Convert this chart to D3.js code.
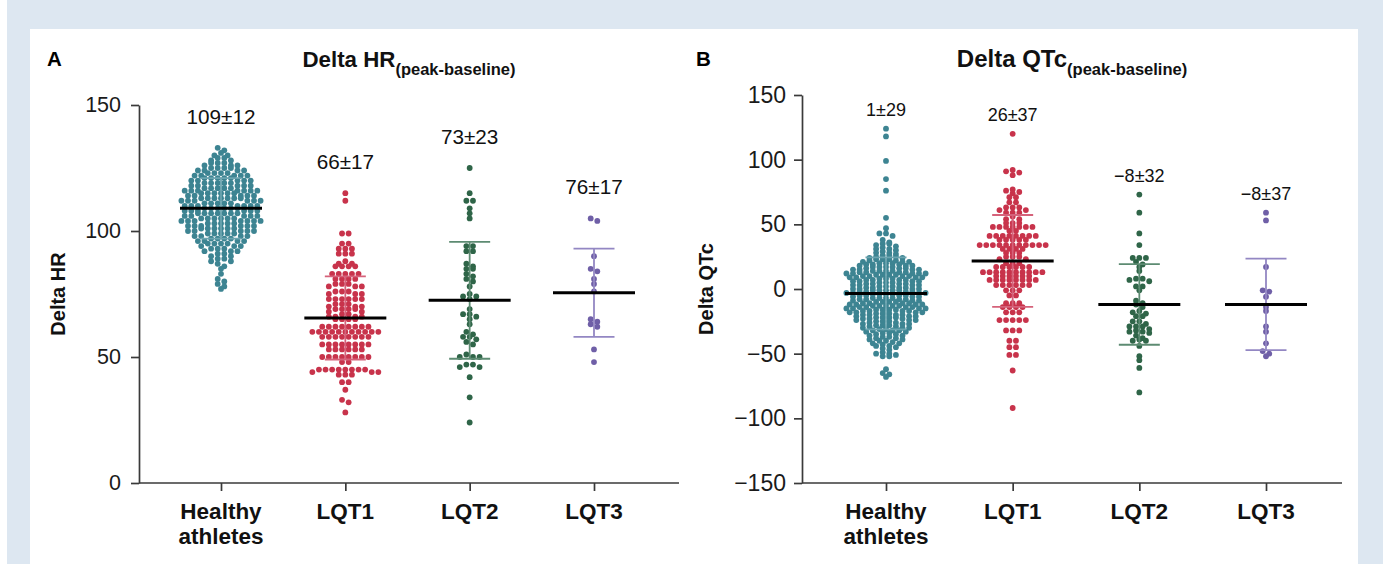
<!DOCTYPE html>
<html>
<head>
<meta charset="utf-8">
<script src="https://cdn.jsdelivr.net/npm/d3@7.9.0/dist/d3.min.js"></script>
<style>
  html, body { margin: 0; padding: 0; background: #fff; }
  svg { display: block; font-family: "Liberation Sans", Arial, sans-serif; }
</style>
</head>
<body>
<svg id="chart" width="1383" height="564"></svg>
<script>
const groups = ["Healthy athletes", "LQT1", "LQT2", "LQT3"];
const groupLines = [["Healthy", "athletes"], ["LQT1"], ["LQT2"], ["LQT3"]];

// panel A: delta heart rate (peak - baseline)
const hrHealthy = [133, 132, 131, 130, 130, 129, 129, 128, 128, 127, 127, 127, 126, 126, 126, 125, 125, 125, 125, 124, 124, 124, 124, 123, 123, 123, 123,
  122, 122, 122, 122, 122, 121, 121, 121, 121, 121, 120, 120, 120, 120, 120, 119, 119, 119, 119, 119, 118, 118, 118, 118, 118,
  117, 117, 117, 117, 117, 116, 116, 116, 116, 116, 116, 116, 115, 115, 115, 115, 115, 115, 114, 114, 114, 114, 114,
  113, 113, 113, 113, 113, 113, 113, 112, 112, 112, 112, 112, 112, 111, 111, 111, 111, 111, 110, 110, 110, 110, 110, 110, 110,
  109, 109, 109, 109, 109, 109, 108, 108, 108, 108, 108, 108, 107, 107, 107, 107, 107, 107, 107, 106, 106, 106, 106, 106,
  105, 105, 105, 105, 105, 105, 104, 104, 104, 104, 104, 104, 104, 103, 103, 103, 103, 103, 102, 102, 102, 102, 102, 102,
  101, 101, 101, 101, 101, 101, 100, 100, 100, 100, 100, 99, 99, 99, 99, 99, 98, 98, 98, 98, 97, 97, 97, 97, 96, 96, 96, 96,
  95, 95, 95, 95, 94, 94, 94, 93, 93, 93, 92, 92, 92, 91, 91, 90, 90, 89, 89, 88, 88, 87, 86, 85, 83, 81, 80, 79, 78, 77];
const hrLqt1 = [115, 112, 99, 99, 95, 95, 93, 93, 93, 91, 91, 91, 88, 87, 87, 86, 86, 86, 86,
  83, 83, 83, 83, 83, 81, 81, 81, 81, 79, 79, 79, 78, 78, 78, 76, 76, 76, 75, 75, 75,
  73, 73, 73, 73, 73, 73, 71, 71, 71, 70, 70, 70, 69, 69, 69, 69, 68, 68, 67, 67,
  66, 66, 66, 66, 65, 65, 65, 65, 62, 62, 62, 62, 62, 62, 62, 62,
  60, 60, 60, 60, 60, 60, 60, 60, 60, 60, 60, 58, 58, 58, 58, 58, 58, 58, 58,
  55, 55, 55, 55, 55, 55, 55, 55, 53, 53, 53, 53, 53, 53,
  50, 50, 50, 50, 50, 50, 50, 50, 48, 48,
  45, 45, 45, 45, 45, 45, 45, 45, 44, 44, 44, 43, 43, 43, 40, 40, 37, 33, 32, 28];
const hrLqt2 = [125, 115, 112, 112, 109, 107, 105, 94, 94, 92, 92, 87, 86, 85, 85, 83, 82, 81, 80, 78, 75, 74, 74, 73,
  69, 67, 67, 66, 65, 63, 60, 59, 58, 58, 57, 56, 55, 51, 50, 50, 50, 47, 47, 46, 46, 42, 34, 24];
const hrLqt3 = [105, 104, 90, 85, 84, 81, 79, 76, 65, 64, 63, 62, 53, 48];
const hrMean = [109, 65.5, 72.5, 75.5];
const hrSd = [12, 16.5, 23.2, 17.5];
const hrText = ["109±12", "66±17", "73±23", "76±17"];
const hrTicks = [0, 50, 100, 150];

// panel B: delta QTc (peak - baseline)
const qtcHealthy = [124, 118, 99, 85, 76, 55, 47, 43, 43, 41, 38, 36, 35, 35,
  34, 33, 32, 31, 31, 30, 29, 28, 28, 27, 26, 26, 25, 25, 24, 24, 23, 23, 23, 22, 22, 21, 21, 21,
  20, 20, 20, 19, 19, 19, 18, 18, 18, 17, 17, 17, 17, 16, 16, 16, 15, 15, 15, 15,
  14, 14, 14, 14, 13, 13, 13, 13, 12, 12, 12, 12, 12, 11, 11, 11, 11, 10, 10, 10, 10,
  9, 9, 9, 9, 8, 8, 8, 7, 7, 7, 7, 6, 6, 6, 6, 5, 5, 5, 4, 4, 4, 4, 3, 3, 3, 3, 2, 2, 2, 1, 1, 1, 1, 0, 0, 0, 0,
  -1, -1, -1, -1, -1, -2, -2, -2, -2, -3, -3, -3, -3, -4, -4, -4, -4, -5, -5, -5, -5,
  -6, -6, -6, -7, -7, -7, -7, -8, -8, -8, -8, -9, -9, -9, -10, -10, -10, -10,
  -11, -11, -11, -11, -12, -12, -12, -12, -13, -13, -13, -13, -13, -14, -14, -14, -14, -15, -15, -15, -15,
  -16, -16, -16, -16, -17, -17, -17, -17, -18, -18, -18, -18, -19, -19, -19, -20, -20, -20, -20,
  -21, -21, -21, -22, -22, -22, -22, -23, -23, -23, -24, -24, -24, -25, -25, -25,
  -26, -26, -27, -27, -27, -28, -28, -28, -29, -29, -30, -30, -30, -31, -31, -32, -32, -32, -33, -33,
  -34, -34, -35, -35, -36, -36, -37, -37, -38, -38, -39, -39, -40, -40, -41, -42, -42, -43, -44, -44, -45,
  -46, -47, -49, -50, -50, -51, -52, -52, -62, -65, -66, -68];
const qtcLqt1 = [120, 92, 91, 90, 88, 77, 76, 75, 74, 71, 71, 67, 67, 63, 63, 63, 61, 61, 59, 59, 59, 56, 54, 54, 51, 51, 51,
  48, 48, 48, 48, 48, 48, 48, 45, 45, 41, 41, 41, 41, 41, 41, 41, 41, 38, 38, 38, 38, 38,
  34, 34, 34, 34, 34, 34, 34, 34, 34, 34, 34, 31, 31, 31, 31, 28, 28, 28, 25, 25, 25, 23, 23,
  20, 20, 20, 17, 17, 17, 17, 17, 17, 13, 13, 13, 13, 13, 13, 13, 13, 13, 13, 10, 10, 10, 10, 10, 10,
  7, 7, 7, 7, 7, 7, 7, 7, 3, 3, 3, 3, 3, 3, -1, -1, -1, -5, -5,
  -11, -11, -11, -14, -14, -14, -14, -18, -18, -18, -24, -24, -24, -24, -24,
  -32, -32, -32, -40, -40, -45, -45, -51, -51, -63, -92];
const qtcLqt2 = [73, 59, 43, 34, 24, 24, 24, 21, 19, 17, 14, 8, 8, 7, 6, 2, 2, -1, -9, -11, -12, -14, -17, -18,
  -19, -21, -21, -25, -25, -27, -29, -29, -29, -31, -32, -33, -33, -34, -36, -38, -39, -40, -40, -44, -52, -55, -61, -80];
const qtcLqt3 = [59, 53, 17, -2, -1, -6, -14, -17, -29, -33, -42, -48, -50, -52];
const qtcMean = [-3.4, 21.7, -11.9, -11.9];
const qtcSd = [27.8, 35.5, 31.2, 35.4];
const qtcText = ["1±29", "26±37", "−8±32", "−8±37"];
const qtcTicks = [-150, -100, -50, 0, 50, 100, 150];

const dotColors = ["#3d8492", "#c8334b", "#2f6548", "#6f5fa7"];
const barColors = ["#6ba4af", "#d5627a", "#5d8b72", "#9387c3"];

const svg = d3.select("#chart");
svg.append("rect").attr("x", 7).attr("y", 0).attr("width", 1376).attr("height", 564).attr("fill", "#dde7f1");
svg.append("rect").attr("x", 30).attr("y", 29).attr("width", 1328).attr("height", 535).attr("fill", "#fff");

// Prism-like scatter: points close in y share a row, spread sideways from the centre
function rows(values, y, rowH, step) {
  const out = [];
  let row = [];
  const flush = () => {
    const n = row.length;
    const slots = d3.range(n).map(k => (k - (n - 1) / 2) * step)
      .sort((a, b) => Math.abs(a) - Math.abs(b) || a - b);
    row.forEach((p, k) => { p.dx = slots[k]; out.push(p); });
    row = [];
  };
  values.slice().sort((a, b) => b - a).forEach(v => {
    const py = y(v);
    if (row.length && py - row[0].y >= rowH) flush();
    row.push({ v, y: py });
  });
  flush();
  return out;
}

function drawPanel(o) {
  const g = svg.append("g");
  const y = d3.scaleLinear().domain(o.yDomain).range([o.bottom, o.top]);
  const x = d3.scalePoint().domain(groups).range(o.xRange);

  const gy = g.append("g")
    .attr("transform", `translate(${o.left},0)`)
    .call(d3.axisLeft(y).tickValues(o.ticks).tickSize(8).tickSizeOuter(0).tickPadding(o.tickPad));
  gy.selectAll("text").attr("font-size", o.tickSize).attr("fill", "#1a1a1a").attr("font-family", null);

  const gx = g.append("g")
    .attr("transform", `translate(0,${o.bottom})`)
    .call(d3.axisBottom(x).tickSize(8).tickFormat(""));
  gx.select(".domain").remove();
  g.append("line")
    .attr("x1", o.left).attr("x2", o.right)
    .attr("y1", o.bottom).attr("y2", o.bottom);
  g.selectAll(".domain, .tick line, line").attr("stroke", "#3a3a3a").attr("stroke-width", 1.7);

  // category labels
  groups.forEach((c, i) => {
    const t = g.append("text")
      .attr("text-anchor", "middle")
      .attr("font-size", 22.5).attr("font-weight", "bold").attr("fill", "#111");
    groupLines[i].forEach((line, j) => {
      t.append("tspan").attr("x", x(c)).attr("y", 518.5 + j * 25).text(line);
    });
  });

  // dots, error bars, means
  o.series.forEach((vals, i) => {
    const cx = x(groups[i]);
    const pts = rows(vals, y, 3, 6.6);
    g.append("g").selectAll("circle").data(pts).join("circle")
      .attr("cx", d => cx + d.dx).attr("cy", d => d.y).attr("r", 2.9)
      .attr("fill", dotColors[i]);

    const lo = y(o.mean[i] - o.sd[i]), hi = y(o.mean[i] + o.sd[i]);
    const eb = g.append("g").attr("stroke", barColors[i]).attr("stroke-width", 1.8);
    eb.append("line").attr("x1", cx).attr("x2", cx).attr("y1", lo).attr("y2", hi);
    [lo, hi].forEach(yy => eb.append("line")
      .attr("x1", cx - 20.5).attr("x2", cx + 20.5).attr("y1", yy).attr("y2", yy));

    g.append("line")
      .attr("x1", cx - 41).attr("x2", cx + 41)
      .attr("y1", y(o.mean[i])).attr("y2", y(o.mean[i]))
      .attr("stroke", "#000").attr("stroke-width", 3);

    g.append("text")
      .attr("x", cx).attr("y", y(d3.max(vals)) - o.labelGap)
      .attr("text-anchor", "middle")
      .attr("font-size", o.labelSize).attr("fill", "#111")
      .text(o.text[i]);
  });

  // panel letter, title, y title
  g.append("text").attr("x", o.letterX).attr("y", 66)
    .attr("font-size", 20.5).attr("font-weight", "bold").text(o.letter);
  const tt = g.append("text").attr("x", (o.left + o.right) / 2).attr("y", 66.5)
    .attr("text-anchor", "middle").attr("font-weight", "bold").attr("fill", "#111");
  tt.append("tspan").attr("font-size", o.titleSize).text(o.title);
  tt.append("tspan").attr("font-size", 16.5).attr("dy", 8).text("(peak-baseline)");

  g.append("text")
    .attr("transform", `translate(${o.yTitleX},${(o.top + o.bottom) / 2}) rotate(-90)`)
    .attr("text-anchor", "middle")
    .attr("font-size", 20).attr("font-weight", "bold").attr("fill", "#111")
    .text(o.yTitle);
}

drawPanel({
  left: 139, right: 679, top: 105, bottom: 483, xRange: [221, 594],
  yDomain: [0, 150], ticks: hrTicks, tickSize: 21.5, tickPad: 10,
  series: [hrHealthy, hrLqt1, hrLqt2, hrLqt3], mean: hrMean, sd: hrSd, text: hrText,
  labelGap: 24, labelSize: 20.7,
  letter: "A", letterX: 47, title: "Delta HR", titleSize: 22.3, yTitle: "Delta HR", yTitleX: 65
});

drawPanel({
  left: 802, right: 1342, top: 95, bottom: 483, xRange: [886, 1266],
  yDomain: [-150, 150], ticks: qtcTicks, tickSize: 23, tickPad: 8,
  series: [qtcHealthy, qtcLqt1, qtcLqt2, qtcLqt3], mean: qtcMean, sd: qtcSd, text: qtcText,
  labelGap: 13, labelSize: 18,
  letter: "B", letterX: 696, title: "Delta QTc", titleSize: 24, yTitle: "Delta QTc", yTitleX: 713
});
</script>
</body>
</html>
